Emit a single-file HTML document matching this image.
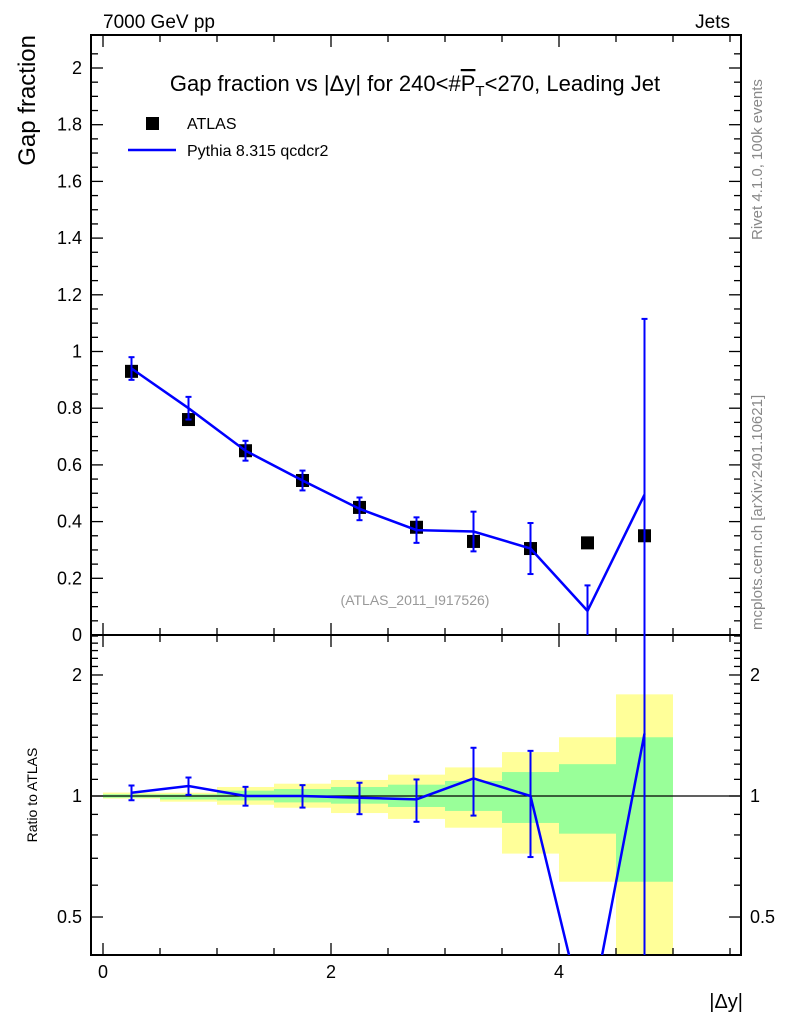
<!DOCTYPE html>
<html><head><meta charset="utf-8"><style>
body{margin:0;background:#fff;}
svg{display:block;font-family:"Liberation Sans",sans-serif;}
</style></head><body>
<svg id="c" width="786" height="1024" xmlns="http://www.w3.org/2000/svg">
<text x="103" y="28" font-size="19">7000 GeV pp</text>
<text x="730" y="28" font-size="19" text-anchor="end">Jets</text>
<text x="415" y="91" font-size="22" text-anchor="middle">Gap fraction vs |Δy| for 240&lt;#<tspan text-decoration="overline">P</tspan><tspan font-size="15" dy="5">T</tspan><tspan dy="-5">&lt;270, Leading Jet</tspan></text>
<text transform="translate(35,35) rotate(-90)" font-size="24" text-anchor="end">Gap fraction</text>
<text transform="translate(37,795) rotate(-90)" font-size="14" text-anchor="middle">Ratio to ATLAS</text>
<text x="743" y="1008" font-size="20" text-anchor="end">|Δy|</text>
<text transform="translate(762,240) rotate(-90)" font-size="15" fill="#888">Rivet 4.1.0,  100k events</text>
<text transform="translate(762,630) rotate(-90)" font-size="15" fill="#888">mcplots.cern.ch [arXiv:2401.10621]</text>
<text x="415" y="605" font-size="14" fill="#999" text-anchor="middle">(ATLAS_2011_I917526)</text>
<rect x="146" y="117" width="13" height="13" fill="#000"/>
<text x="187" y="129" font-size="16">ATLAS</text>
<line x1="128" y1="150" x2="176" y2="150" stroke="#00f" stroke-width="2.5"/>
<text x="187" y="156" font-size="16">Pythia 8.315 qcdcr2</text>
<g id="g"></g>
</svg>
<script>
const xc=[0.25,0.75,1.25,1.75,2.25,2.75,3.25,3.75,4.25,4.75];
const atlas=[0.93,0.76,0.65,0.545,0.45,0.38,0.33,0.305,0.325,0.35];
const pythia=[0.94,0.80,0.65,0.545,0.445,0.37,0.365,0.305,0.085,0.495];
const pyErr=[0.04,0.04,0.035,0.035,0.04,0.045,0.07,0.09,0.09,0.62];
const ratio=[1.019,1.059,1.0,1.0,0.99,0.981,1.106,1.0,0.26,1.43];
const yelHi=[1.02,1.019,1.053,1.073,1.096,1.13,1.178,1.286,1.40,1.79];
const yelLo=[0.985,0.968,0.951,0.935,0.907,0.877,0.834,0.719,0.612,0.3];
const grnHi=[1.01,1.01,1.031,1.041,1.053,1.067,1.09,1.147,1.20,1.40];
const grnLo=[0.99,0.98,0.975,0.964,0.957,0.939,0.918,0.857,0.806,0.612];
const xTicks=[0,2,4];
const yTicks=[0,0.2,0.4,0.6,0.8,1,1.2,1.4,1.6,1.8,2];
const rTicks=[0.5,1,2];
const NS="http://www.w3.org/2000/svg",g=document.getElementById('g');
const L=91,R=741,T=35,M=635,B=955;
const X=v=>103+v*114, Y=v=>635-v*283.5;
const RY=v=>Math.min(B,Math.max(M,796-Math.log10(v)*402));
function el(t,a){const e=document.createElementNS(NS,t);for(const k in a)e.setAttribute(k,a[k]);g.appendChild(e);return e;}
xc.forEach((c,i)=>{
 const x0=X(c-0.25),w=57;
 let e=el('rect',{x:x0,y:RY(yelHi[i]),width:w,height:RY(yelLo[i])-RY(yelHi[i]),fill:'#ffff99'});
 
 
 e=el('rect',{x:x0,y:RY(grnHi[i]),width:w,height:RY(grnLo[i])-RY(grnHi[i]),fill:'#99ff99'});
 
 
});
let ln=el('line',{x1:L,x2:R,y1:RY(1),y2:RY(1),stroke:'#000','stroke-width':1.2});


[[T,M],[M,B]].forEach((p,i)=>{const f=el('rect',{x:L,y:p[0],width:R-L,height:p[1]-p[0],fill:'none',stroke:'#000','stroke-width':2});
 
 });
for(let v=0;v<=5.5;v+=0.5){const x=X(v),maj=v%2==0,len=maj?12:7;
 [[M,-1],[T,1],[B,-1],[M,1]].forEach(q=>el('line',{x1:x,x2:x,y1:q[0],y2:q[0]+q[1]*len,stroke:'#000','stroke-width':1.3}));}
xTicks.forEach(v=>{const t=el('text',{x:X(v),y:978,'font-size':18,'text-anchor':'middle'});t.textContent=v;
 
 });
for(let v=0;v<=2.1;v+=0.05){const y=Y(v);if(y<T)break;const maj=Math.abs(v*5-Math.round(v*5))<1e-6,len=maj?12:7;
 el('line',{x1:L,x2:L+len,y1:y,y2:y,stroke:'#000','stroke-width':1.3});el('line',{x1:R,x2:R-len,y1:y,y2:y,stroke:'#000','stroke-width':1.3});}
yTicks.forEach(v=>{const t=el('text',{x:82,y:Y(v)+6,'font-size':18,'text-anchor':'end'});t.textContent=v;
 
 });
[0.4,0.5,0.6,0.7,0.8,0.9,1,1.1,1.2,1.3,1.4,1.5,1.6,1.7,1.8,1.9,2,2.1,2.2,2.3,2.4,2.5].forEach(v=>{const y=796-Math.log10(v)*402;if(y<M||y>B)return;
 const len=rTicks.includes(v)?12:7;
 el('line',{x1:L,x2:L+len,y1:y,y2:y,stroke:'#000','stroke-width':1.3});el('line',{x1:R,x2:R-len,y1:y,y2:y,stroke:'#000','stroke-width':1.3});});
rTicks.forEach(v=>{[[82,'end'],[750,'start']].forEach(p=>{const t=el('text',{x:p[0],y:RY(v)+6,'font-size':18,'text-anchor':p[1]});t.textContent=v;
 
 });});
xc.forEach((c,i)=>{const m=el('rect',{x:X(c)-6.5,y:Y(atlas[i])-6.5,width:13,height:13,fill:'#000'});
 
 });
const clipY=v=>Math.max(T,Math.min(M,v));
let p=el('polyline',{points:xc.map((c,i)=>X(c)+','+Y(pythia[i])).join(' '),fill:'none',stroke:'#00f','stroke-width':2.5});


xc.forEach((c,i)=>{const x=X(c),y1=clipY(Y(pythia[i]+pyErr[i])),y2=clipY(Y(pythia[i]-pyErr[i]));
 const e=el('line',{x1:x,x2:x,y1:y1,y2:y2,stroke:'#00f','stroke-width':2});
 
 
 [y1,y2].forEach(y=>{if(y>T&&y<M)el('line',{x1:x-3,x2:x+3,y1:y,y2:y,stroke:'#00f','stroke-width':2});});});
const cp=el('clipPath',{id:'rc'});const cr=document.createElementNS(NS,'rect');
cr.setAttribute('x',L);cr.setAttribute('y',M);cr.setAttribute('width',R-L);cr.setAttribute('height',B-M);cp.appendChild(cr);
const rp=el('polyline',{points:xc.map((c,i)=>X(c)+','+(796-Math.log10(ratio[i])*402)).join(' '),fill:'none',stroke:'#00f','stroke-width':2.5,'clip-path':'url(#rc)'});


xc.forEach((c,i)=>{if(i==8)return;const x=X(c),re=pyErr[i]/atlas[i];
 const hi=ratio[i]+re,lo=ratio[i]-re;const y1=RY(hi),y2=lo>0?RY(lo):B;
 const e=el('line',{x1:x,x2:x,y1:y1,y2:y2,stroke:'#00f','stroke-width':2});
 
 
 [y1,y2].forEach(y=>{if(y>M&&y<B)el('line',{x1:x-3,x2:x+3,y1:y,y2:y,stroke:'#00f','stroke-width':2});});});
</script>
</body></html>
